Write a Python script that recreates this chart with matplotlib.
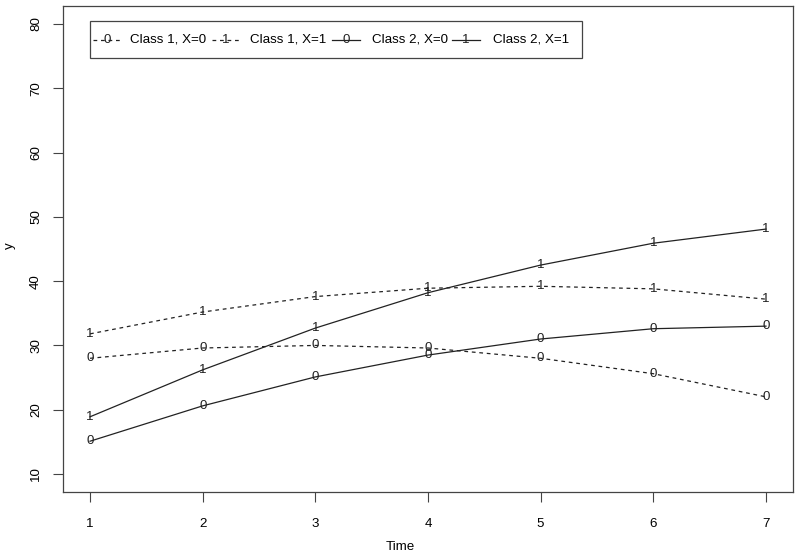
import matplotlib
matplotlib.use("Agg")
import matplotlib.pyplot as plt
from matplotlib.patches import Rectangle
from matplotlib.lines import Line2D

plt.rcParams['font.family'] = ['Liberation Sans', 'DejaVu Sans']

time = [1, 2, 3, 4, 5, 6, 7]
c1_x0 = [28.0, 29.6, 30.0, 29.6, 28.0, 25.6, 22.0]
c1_x1 = [31.8, 35.2, 37.6, 38.9, 39.2, 38.8, 37.2]
c2_x0 = [15.1, 20.6, 25.1, 28.5, 31.0, 32.6, 33.0]
c2_x1 = [18.9, 26.2, 32.7, 38.2, 42.5, 45.9, 48.1]

series = [
    (c1_x0, "0", (0, (3, 3)), "Class 1, X=0"),
    (c1_x1, "1", (0, (3, 3)), "Class 1, X=1"),
    (c2_x0, "0", "-", "Class 2, X=0"),
    (c2_x1, "1", "-", "Class 2, X=1"),
]

fig = plt.figure(figsize=(8, 5.58), dpi=100)
ax = fig.add_axes([63/800, 1-492/558, 730/800, 486/558])
fs = 9.6

for vals, ch, ls, lab in series:
    ax.plot(time, vals, color="#222222", lw=0.9, linestyle=ls)
    for t, v in zip(time, vals):
        ax.text(t, v, ch, ha="center", va="center", fontsize=fs, color="#222222")

ax.set_xlim(0.76, 7.24)
ax.set_ylim(7.2, 82.8)
ax.set_xticks(time)
ax.set_yticks([10, 20, 30, 40, 50, 60, 70, 80])
ax.tick_params(axis="both", direction="out", length=7, width=0.8, labelsize=fs, color="#444444")
ax.tick_params(axis="x", pad=12)
ax.tick_params(axis="y", pad=8)
for lbl in ax.get_yticklabels():
    lbl.set_rotation(90)
    lbl.set_va("center")
for s in ax.spines.values():
    s.set_linewidth(0.9)
    s.set_color("#444444")

fig.text(400/800, 1-547/558, "Time", ha="center", va="center", fontsize=fs)
fig.text(10/800, 1-246/558, "y", ha="center", va="center", fontsize=fs, rotation=90)

# legend drawn in pixel coordinates
def px(x, y):
    return (x/800, 1-y/558)

lx0, ly0 = px(90, 58)
lx1, ly1 = px(582, 21)
fig.patches.append(Rectangle((lx0, ly0), lx1-lx0, ly1-ly0, transform=fig.transFigure,
                             fill=False, edgecolor="#444444", lw=0.9))
yc = 40
items = [(93, 121, 107, 130), (212, 240, 226, 250), (332, 360, 346, 372), (452, 480, 466, 493)]
for (vals, ch, ls, lab), (xa, xb, xm, xt) in zip(series, items):
    fig.lines.append(Line2D([xa/800, xb/800], [1-yc/558]*2, transform=fig.transFigure,
                            color="#222222", lw=0.9, linestyle=ls))
    fig.text(xm/800, 1-yc/558, ch, ha="center", va="center", fontsize=fs, color="#222222")
    fig.text(xt/800, 1-yc/558, lab, ha="left", va="center", fontsize=fs)

fig.savefig("out.png", dpi=100)
